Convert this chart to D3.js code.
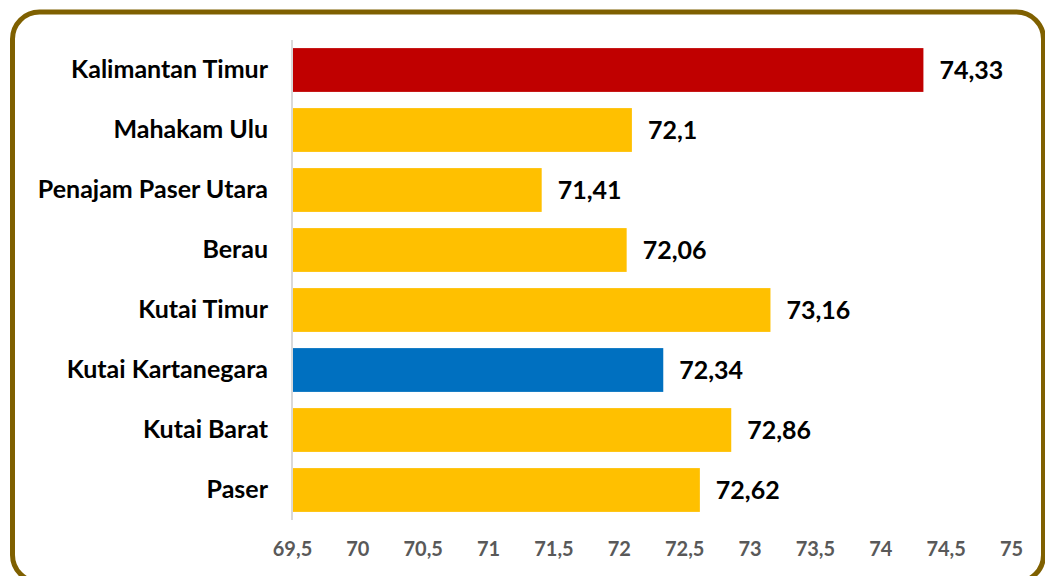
<!DOCTYPE html>
<html>
<head>
<meta charset="utf-8">
<script src="https://cdn.jsdelivr.net/npm/d3@7"></script>
<style>
  html, body { margin: 0; padding: 0; background: #ffffff; }
  svg { display: block; }
  text { font-family: Lato, "Open Sans", sans-serif; font-weight: 700; }
</style>
</head>
<body>
<svg id="chart" width="1045" height="576"></svg>
<script>
// Regions of Kalimantan Timur, top to bottom
const categories = [
  "Kalimantan Timur", "Mahakam Ulu", "Penajam Paser Utara", "Berau",
  "Kutai Timur", "Kutai Kartanegara", "Kutai Barat", "Paser"
];
const values = [74.33, 72.1, 71.41, 72.06, 73.16, 72.34, 72.86, 72.62];
const barColors = ["#C00000", "#FFC000", "#FFC000", "#FFC000", "#FFC000", "#0070C0", "#FFC000", "#FFC000"];
const tickValues = [69.5, 70, 70.5, 71, 71.5, 72, 72.5, 73, 73.5, 74, 74.5, 75];

const fmt = v => String(v).replace(".", ",");

const svg = d3.select("#chart");

// Rounded frame around the chart
svg.append("rect")
  .attr("x", 12.5).attr("y", 12)
  .attr("width", 1031).attr("height", 570)
  .attr("rx", 27).attr("ry", 27)
  .attr("fill", "#ffffff")
  .attr("stroke", "#7F6000")
  .attr("stroke-width", 5);

const x = d3.scaleLinear().domain([69.5, 75]).range([292, 1011]);
const y = d3.scaleBand().domain(categories).range([40, 520]).paddingInner(0.27).paddingOuter(0.135);

// Bars
svg.append("g").selectAll("rect")
  .data(categories)
  .join("rect")
  .attr("x", x(69.5))
  .attr("y", d => y(d))
  .attr("width", (d, i) => x(values[i]) - x(69.5))
  .attr("height", y.bandwidth())
  .attr("fill", (d, i) => barColors[i]);

// Category axis (left)
const yAxis = svg.append("g")
  .attr("transform", `translate(${x(69.5)},0)`)
  .call(d3.axisLeft(y).tickSize(0).tickPadding(24));
yAxis.select(".domain").attr("stroke", "#D9D9D9").attr("stroke-width", 2)
  .attr("d", "M0,40V520");
yAxis.selectAll("text")
  .attr("font-size", 25)
  .attr("fill", "#000000")
  .attr("font-family", "Lato, 'Open Sans', sans-serif")
  .attr("font-weight", 700);

// Value axis (bottom, labels only)
const xAxis = svg.append("g")
  .attr("transform", "translate(0,532)")
  .call(d3.axisBottom(x).tickValues(tickValues).tickFormat(fmt).tickSize(0).tickPadding(10));
xAxis.select(".domain").remove();
xAxis.selectAll("text")
  .attr("font-size", 20)
  .attr("fill", "#595959")
  .attr("font-family", "Lato, 'Open Sans', sans-serif")
  .attr("font-weight", 700);

// Value labels at bar ends
svg.append("g").selectAll("text")
  .data(categories)
  .join("text")
  .attr("x", (d, i) => x(values[i]) + 16)
  .attr("y", d => y(d) + y.bandwidth() / 2)
  .attr("dy", "0.36em")
  .attr("font-size", 25)
  .attr("fill", "#000000")
  .text((d, i) => fmt(values[i]));
</script>
</body>
</html>
